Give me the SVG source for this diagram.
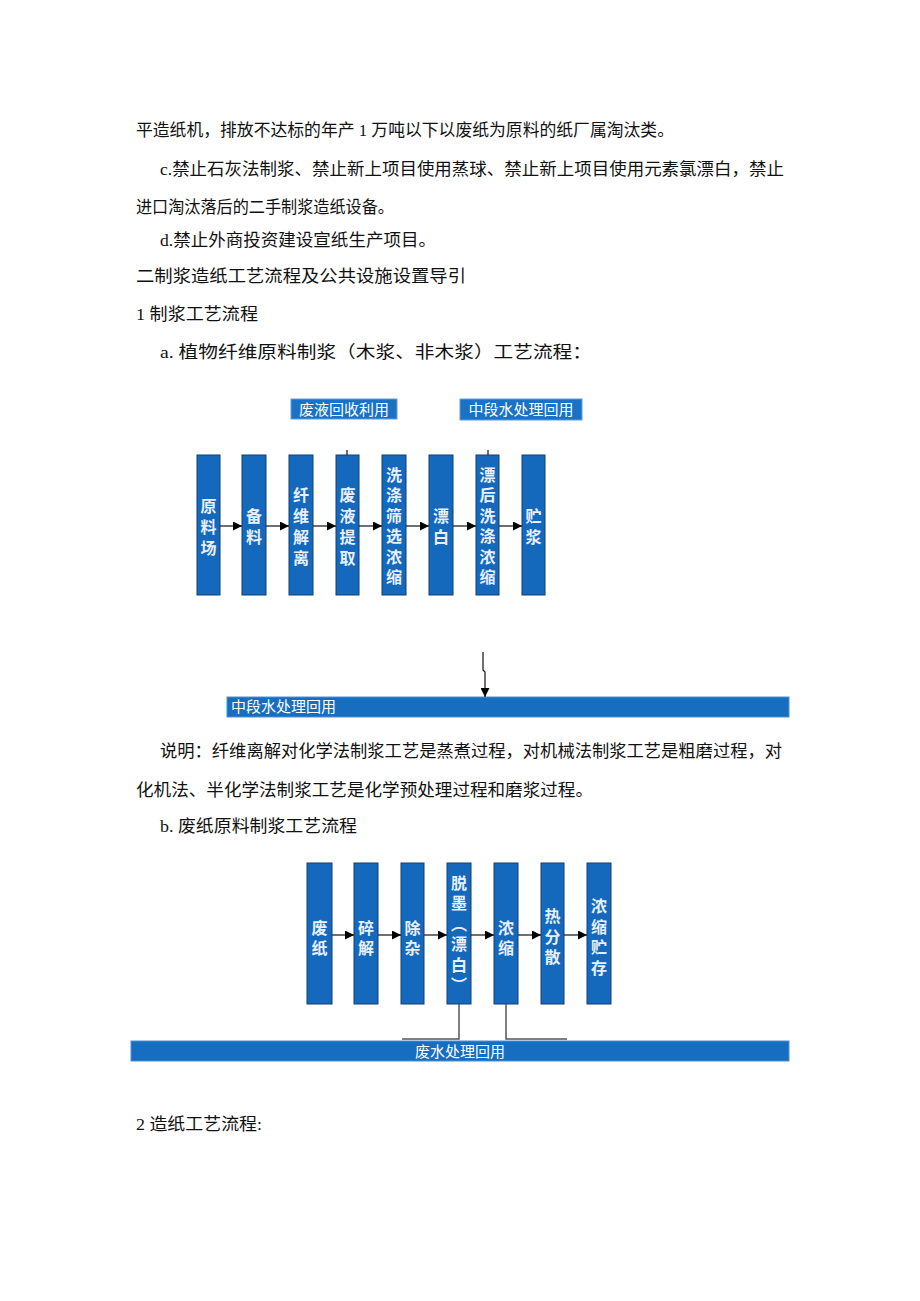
<svg xmlns="http://www.w3.org/2000/svg" width="920" height="1301" viewBox="0 0 920 1301">
<defs>
<style>
.t{font-family:"Liberation Serif","Noto Sans CJK SC",serif;font-size:17px;fill:#111}
.box{fill:#1469bd;stroke:#123f73;stroke-width:1}
.bt{font-family:"Noto Sans CJK SC",sans-serif;font-size:16px;font-weight:bold;fill:#e8f0ff;text-anchor:middle;writing-mode:vertical-rl;text-orientation:upright;letter-spacing:5px}
.bt2{letter-spacing:4.5px}
.nv{font-feature-settings:"vert" 0,"vrt2" 0}
.lbl{fill:#1a72c6;stroke:#5a9ee0;stroke-width:1}
.lt{font-family:"Noto Sans CJK SC",sans-serif;font-size:15px;fill:#fff}
.bar{fill:#176dc0;stroke:#4a90d8;stroke-width:1}
.ln{stroke:#222;stroke-width:1.3;fill:none}
.gl{stroke:#555;stroke-width:1.5;fill:none}
</style>
<marker id="ah" viewBox="0 0 10 10" refX="10" refY="5" markerWidth="10" markerHeight="9" markerUnits="userSpaceOnUse" orient="auto"><path d="M0,0L10,5L0,10z" fill="#000"/></marker>
</defs>
<rect width="920" height="1301" fill="#fff"/>
<g id="body-text">
<text class="t" x="136" y="136" textLength="538" lengthAdjust="spacingAndGlyphs">平造纸机，排放不达标的年产 1 万吨以下以废纸为原料的纸厂属淘汰类。</text>
<text class="t" x="160" y="175" textLength="624" lengthAdjust="spacingAndGlyphs">c.禁止石灰法制浆、禁止新上项目使用蒸球、禁止新上项目使用元素氯漂白，禁止</text>
<text class="t" x="136" y="213" textLength="258" lengthAdjust="spacingAndGlyphs">进口淘汰落后的二手制浆造纸设备。</text>
<text class="t" x="160" y="246" textLength="276" lengthAdjust="spacingAndGlyphs">d.禁止外商投资建设宣纸生产项目。</text>
<text class="t" x="136" y="282" textLength="330" lengthAdjust="spacingAndGlyphs">二制浆造纸工艺流程及公共设施设置导引</text>
<text class="t" x="136" y="320" textLength="122" lengthAdjust="spacingAndGlyphs">1 制浆工艺流程</text>
<text class="t" x="160" y="358" textLength="432" lengthAdjust="spacingAndGlyphs">a. 植物纤维原料制浆（木浆、非木浆）工艺流程：</text>
<text class="t" x="160" y="757" textLength="622" lengthAdjust="spacingAndGlyphs">说明：纤维离解对化学法制浆工艺是蒸煮过程，对机械法制浆工艺是粗磨过程，对</text>
<text class="t" x="136" y="796" textLength="457" lengthAdjust="spacingAndGlyphs">化机法、半化学法制浆工艺是化学预处理过程和磨浆过程。</text>
<text class="t" x="160" y="832" textLength="197" lengthAdjust="spacingAndGlyphs">b. 废纸原料制浆工艺流程</text>
<text class="t" x="136" y="1130" textLength="126" lengthAdjust="spacingAndGlyphs">2 造纸工艺流程:</text>
</g>
<g id="label-waste-liquor">
<rect class="lbl" x="291" y="399" width="106" height="20"/>
<text class="lt" x="344" y="415" text-anchor="middle">废液回收利用</text>
</g>
<g id="label-midwater-top">
<rect class="lbl" x="460" y="399" width="122" height="21"/>
<text class="lt" x="521" y="415" text-anchor="middle">中段水处理回用</text>
</g>
<g id="a1"><rect class="box" x="197" y="455" width="23" height="140"/><text class="bt" x="208.5" y="529">原料场</text></g>
<g id="a2"><rect class="box" x="242" y="455" width="24" height="140"/><text class="bt" x="254" y="529">备料</text></g>
<g id="a3"><rect class="box" x="289" y="455" width="24" height="140"/><text class="bt" x="301" y="529">纤维解离</text></g>
<g id="a4"><rect class="box" x="336" y="455" width="23" height="140"/><text class="bt" x="347.5" y="529">废液提取</text></g>
<g id="a5"><rect class="box" x="382" y="455" width="24" height="140"/><text class="bt bt2" x="394" y="528">洗涤筛选浓缩</text></g>
<g id="a6"><rect class="box" x="429" y="455" width="24" height="140"/><text class="bt" x="441" y="529">漂白</text></g>
<g id="a7"><rect class="box" x="476" y="455" width="23" height="140"/><text class="bt bt2" x="487.5" y="528">漂后洗涤浓缩</text></g>
<g id="a8"><rect class="box" x="522" y="455" width="23" height="140"/><text class="bt" x="533.5" y="529">贮浆</text></g>
<g id="bar-midwater">
<rect class="bar" x="227" y="697" width="562" height="20"/>
<text class="lt" x="231" y="712">中段水处理回用</text>
</g>
<g id="b1"><rect class="box" x="307" y="863" width="25" height="141"/><text class="bt bt2" x="319.5" y="940">废纸</text></g>
<g id="b2"><rect class="box" x="354" y="863" width="24" height="141"/><text class="bt bt2" x="366" y="940">碎解</text></g>
<g id="b3"><rect class="box" x="401" y="863" width="23" height="141"/><text class="bt bt2" x="412.5" y="940">除杂</text></g>
<g id="b4"><rect class="box" x="447" y="863" width="24" height="141"/><text class="bt bt2 nv" x="459" y="936">脱墨（漂白）</text></g>
<g id="b5"><rect class="box" x="494" y="863" width="24" height="141"/><text class="bt bt2" x="506" y="940">浓缩</text></g>
<g id="b6"><rect class="box" x="541" y="863" width="23" height="141"/><text class="bt bt2" x="552.5" y="939">热分散</text></g>
<g id="b7"><rect class="box" x="587" y="863" width="24" height="141"/><text class="bt bt2" x="599" y="939">浓缩贮存</text></g>
<g id="bar-wastewater">
<rect class="bar" x="131" y="1041" width="658" height="20"/>
<text class="lt" x="460" y="1057" text-anchor="middle">废水处理回用</text>
</g>
<g id="connectors">
<line class="ln" x1="220" y1="526" x2="242" y2="526" marker-end="url(#ah)"/>
<line class="ln" x1="266" y1="526" x2="289" y2="526" marker-end="url(#ah)"/>
<line class="ln" x1="313" y1="526" x2="336" y2="526" marker-end="url(#ah)"/>
<line class="ln" x1="359" y1="526" x2="382" y2="526" marker-end="url(#ah)"/>
<line class="ln" x1="406" y1="526" x2="429" y2="526" marker-end="url(#ah)"/>
<line class="ln" x1="453" y1="526" x2="476" y2="526" marker-end="url(#ah)"/>
<line class="ln" x1="499" y1="526" x2="522" y2="526" marker-end="url(#ah)"/>
<line class="ln" x1="347" y1="450" x2="347" y2="455"/>
<line class="ln" x1="488" y1="450" x2="488" y2="455"/>
<path class="ln" d="M483,652 L483,670 L485,672 L485,697" marker-end="url(#ah)"/>
<line class="ln" x1="332" y1="935" x2="354" y2="935" marker-end="url(#ah)"/>
<line class="ln" x1="378" y1="935" x2="401" y2="935" marker-end="url(#ah)"/>
<line class="ln" x1="424" y1="935" x2="447" y2="935" marker-end="url(#ah)"/>
<line class="ln" x1="471" y1="935" x2="494" y2="935" marker-end="url(#ah)"/>
<line class="ln" x1="518" y1="935" x2="541" y2="935" marker-end="url(#ah)"/>
<line class="ln" x1="564" y1="935" x2="587" y2="935" marker-end="url(#ah)"/>
<path class="gl" d="M459,1004 L459,1039 L402,1039"/>
<path class="gl" d="M506,1004 L506,1039 L567,1039"/>
</g>
</svg>
